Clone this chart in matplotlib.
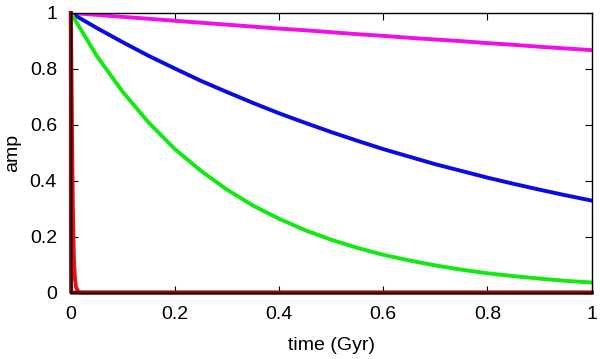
import matplotlib.pyplot as plt
from matplotlib.ticker import FuncFormatter

plt.rcParams['font.family'] = ['Liberation Sans', 'DejaVu Sans']

# === values ===
t = [0, 0.05, 0.1, 0.15, 0.2, 0.25, 0.3, 0.35, 0.4, 0.45, 0.5,
     0.55, 0.6, 0.65, 0.7, 0.75, 0.8, 0.85, 0.9, 0.95, 1.0]
amp_magenta = [1, 0.993, 0.986, 0.979, 0.972, 0.965, 0.958, 0.951, 0.944, 0.938, 0.931,
               0.924, 0.918, 0.911, 0.905, 0.899, 0.892, 0.886, 0.879, 0.873, 0.867]
amp_blue = [1, 0.946, 0.895, 0.846, 0.801, 0.757, 0.717, 0.678, 0.641, 0.607, 0.574,
            0.543, 0.513, 0.486, 0.459, 0.435, 0.411, 0.389, 0.368, 0.348, 0.329]
amp_green = [1, 0.846, 0.717, 0.607, 0.513, 0.435, 0.368, 0.311, 0.264, 0.223, 0.189,
             0.160, 0.135, 0.115, 0.097, 0.082, 0.069, 0.059, 0.050, 0.042, 0.036]

t_red = [0, 0.001, 0.002, 0.003, 0.004, 0.005, 0.006, 0.008, 0.01, 0.014, 0.02, 1.0]
amp_red = [1, 0.85, 0.65, 0.45, 0.3, 0.2, 0.12, 0.05, 0.02, 0.003, 0, 0]

t_darkred = [0, 0.0002, 0.0006, 1.0]
amp_darkred = [1, 0.3, 0, 0]

ticks = [0, 0.2, 0.4, 0.6, 0.8, 1]

fig = plt.figure(figsize=(6, 3.59), dpi=100)
ax = fig.add_axes([0.118, 0.185, 0.868, 0.779])

lw = 2.8
ax.plot(t, amp_magenta, color='#ee10e6', lw=lw)
ax.plot(t, amp_blue, color='#0a0ae6', lw=lw)
ax.plot(t, amp_green, color='#10ea10', lw=lw)
ax.plot(t_red, amp_red, color='#ee1010', lw=lw, clip_on=False)
ax.plot(t_darkred, amp_darkred, color='#8b0a0a', lw=lw, clip_on=False)

ax.set_xlim(0, 1)
ax.set_ylim(0, 1)
ax.set_xticks(ticks)
ax.set_yticks(ticks)
fmt = FuncFormatter(lambda v, p: ('%g' % v))
ax.xaxis.set_major_formatter(fmt)
ax.yaxis.set_major_formatter(fmt)
ax.tick_params(direction='in', length=5, width=0.8, top=True, right=True,
               labelsize=14, pad=10)
for s in ax.spines.values():
    s.set_linewidth(1.0)

ax.set_xlabel('time (Gyr)', fontsize=14, labelpad=10)
ax.set_ylabel('amp', fontsize=14, labelpad=6)

fig.savefig('out.png', dpi=100)
